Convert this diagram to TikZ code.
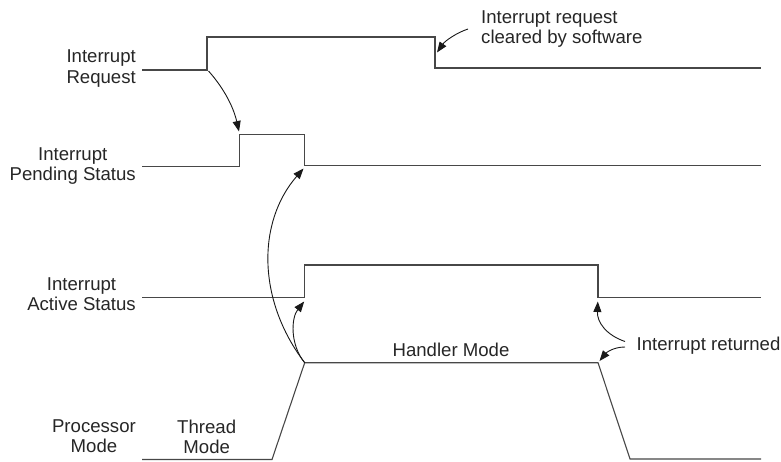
\documentclass[tikz,border=0pt]{standalone}
\usepackage{fontspec}
\setmainfont{Liberation Sans}
\usetikzlibrary{arrows.meta}
\begin{document}
\begin{tikzpicture}[x=1pt,y=-1pt,
  wave/.style={line width=1.1pt,draw=black!72,line join=miter},
  arr/.style={line width=0.9pt,draw=black!90,-{Triangle[length=10.5pt,width=8pt]}},
  lbl/.style={inner sep=0pt,font=\fontsize{18.6}{20.2}\selectfont,text=black!85,align=center},
]
\useasboundingbox (0,0) rectangle (781,461);
% labels
\node[lbl,anchor=north east] (lreq) at (136,50) {Interrupt\\Request};
\node[lbl,anchor=north east] (lpend) at (136,147.7) {Interrupt\\Pending Status};
\node[lbl,anchor=north east] (lact) at (136,277.4) {Interrupt\\Active Status};
\node[lbl,anchor=north east] (lproc) at (136,419.4) {Processor\\Mode};
\node[lbl,anchor=north] (lthread) at (206.7,419.4) {Thread\\Mode};
\node[lbl,anchor=base] (lhandler) at (451,356) {Handler Mode};
\node[lbl,anchor=base west] (lret) at (636.5,350.7) {Interrupt returned};
\node[lbl,anchor=north west,align=left,font=\fontsize{18.6}{19.4}\selectfont] (lclr) at (481,10.8) {Interrupt request\\cleared by software};
% waveform coordinates
\coordinate (r0) at (142,70);
\coordinate (r1) at (207,70);
\coordinate (r2) at (207,37);
\coordinate (r3) at (435,37);
\coordinate (r4) at (435,68);
\coordinate (r5) at (761,68);
\coordinate (p0) at (142,166.7);
\coordinate (p1) at (239.7,166.7);
\coordinate (p2) at (239.7,134.7);
\coordinate (p3) at (304.7,134.7);
\coordinate (p4) at (304.7,165.3);
\coordinate (p5) at (761,165.3);
\coordinate (a0) at (142,297.7);
\coordinate (a1) at (304.7,297.7);
\coordinate (a2) at (304.7,265);
\coordinate (a3) at (598,265);
\coordinate (a4) at (598,297.7);
\coordinate (a5) at (761,297.7);
\coordinate (m0) at (142,459.5);
\coordinate (m1) at (272,459.5);
\coordinate (m2) at (304.7,362.7);
\coordinate (m3) at (598,362.7);
\coordinate (m4) at (630,459);
\coordinate (m5) at (761,459);
\draw[wave] (r0) -- (r1) -- (r2) -- (r3) -- (r4) -- (r5);
\draw[wave] (p0) -- (p1) -- (p2) -- (p3) -- (p4) -- (p5);
\draw[wave] (a0) -- (a1) -- (a2) -- (a3) -- (a4) -- (a5);
\draw[wave] (m0) -- (m1) -- (m2) -- (m3) -- (m4) -- (m5);
% arrow endpoints
\coordinate (e1s) at (208.5,71);
\coordinate (e1t) at (239,131.5);
\coordinate (e2s) at (468,29);
\coordinate (e2t) at (437,52.5);
\coordinate (e3t) at (303.5,168.5);
\coordinate (e4t) at (304.2,301.5);
\coordinate (e5s) at (625,341.5);
\coordinate (e5t) at (597.8,301.5);
\coordinate (e6s) at (625,347);
\coordinate (e6t) at (599.5,361);
\draw[arr] (e1s) .. controls (222,86) and (233,105) .. (e1t);
\draw[arr] (e2s) .. controls (456,33) and (445,41) .. (e2t);
\draw[arr] (m2) .. controls (257,300) and (257,222) .. (e3t);
\draw[arr] (m2) .. controls (290,345) and (291,318) .. (e4t);
\draw[arr] (e5s) .. controls (606,335) and (597,322) .. (e5t);
\draw[arr] (e6s) .. controls (613,347) and (606,353) .. (e6t);
\end{tikzpicture}
\end{document}
